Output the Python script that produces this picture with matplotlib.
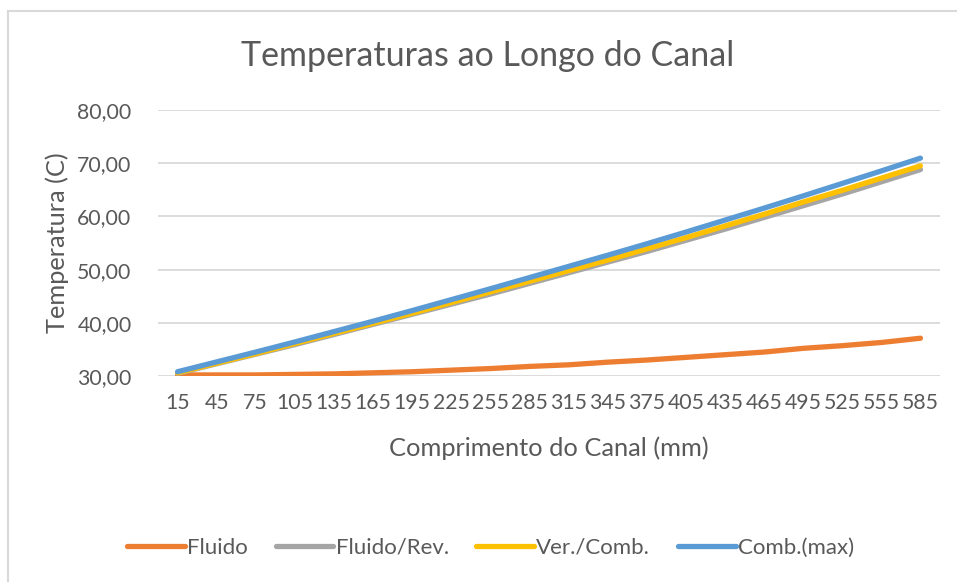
import numpy as np
import matplotlib
matplotlib.use("Agg")
import matplotlib.pyplot as plt
from matplotlib.ticker import FuncFormatter
from matplotlib.lines import Line2D

plt.rcParams['font.family'] = ['Lato', 'DejaVu Sans']

# comprimento do canal (mm)
comprimento = [15, 45, 75, 105, 135, 165, 195, 225, 255, 285,
               315, 345, 375, 405, 435, 465, 495, 525, 555, 585]

fluido = [30.2, 30.2, 30.2, 30.3, 30.4, 30.6, 30.8, 31.1, 31.4, 31.8,
          32.1, 32.6, 33.0, 33.5, 34.0, 34.5, 35.2, 35.7, 36.3, 37.1]
fluido_rev = [30.5, 32.3, 34.1, 35.9, 37.8, 39.7, 41.6, 43.5, 45.4, 47.4,
              49.4, 51.4, 53.4, 55.5, 57.6, 59.8, 62.0, 64.2, 66.5, 68.8]
ver_comb = [30.6, 32.4, 34.2, 36.1, 38.0, 39.9, 41.8, 43.8, 45.8, 47.8,
            49.8, 51.8, 53.9, 56.0, 58.2, 60.4, 62.7, 64.9, 67.2, 69.5]
comb_max = [30.8, 32.65, 34.5, 36.4, 38.35, 40.3, 42.3, 44.35, 46.4, 48.5,
            50.6, 52.7, 54.85, 57.05, 59.3, 61.55, 63.85, 66.2, 68.55, 70.95]

series = [("Fluido", fluido, "#ED7D31"),
          ("Fluido/Rev.", fluido_rev, "#A5A5A5"),
          ("Ver./Comb.", ver_comb, "#FFC000"),
          ("Comb.(max)", comb_max, "#5B9BD5")]

txt = "#595959"
W, H = 957, 582
fig = plt.figure(figsize=(W / 100, H / 100), dpi=100)
ax = fig.add_axes([158 / W, 1 - 376 / H, (940 - 158) / W, (376 - 110) / H])

x = np.arange(len(comprimento))
for nome, vals, cor in series:
    ax.plot(x, vals, color=cor, lw=3.8, solid_capstyle='round', label=nome)

ax.set_xlim(-0.5, len(comprimento) - 0.5)
ax.set_ylim(30, 80)
ax.set_yticks(np.arange(30, 81, 10))
ax.yaxis.set_major_formatter(FuncFormatter(lambda v, p: f"{v:.2f}".replace(".", ",")))
ax.set_xticks(x)
ax.set_xticklabels([str(c) for c in comprimento])
ax.grid(axis='y', color='#D9D9D9', lw=1.3)
ax.set_axisbelow(True)
for s in ax.spines.values():
    s.set_visible(False)
ax.tick_params(length=0, colors=txt, labelsize=15.3)
ax.tick_params(axis='y', pad=19)
ax.tick_params(axis='x', pad=12)

ax.set_xlabel("Comprimento do Canal (mm)", color=txt, fontsize=18.3, labelpad=17)
ax.set_ylabel("Temperatura (C)", color=txt, fontsize=18.3, labelpad=6)
fig.text(488 / W, 1 - 56 / H, "Temperaturas ao Longo do Canal", color=txt,
         fontsize=24.5, ha='center', va='center')

handles = [Line2D([], [], color=c, lw=3.8, solid_capstyle='round') for _, _, c in series]
fig.legend(handles, [n for n, _, _ in series], loc='center left',
           bbox_to_anchor=(107 / W, 1 - 548 / H), ncol=4, frameon=False,
           fontsize=16, labelcolor=txt, handlelength=2.6, handletextpad=0.1,
           columnspacing=1.25)

# moldura do grafico
fig.add_artist(Line2D([8 / W, 1], [1 - 11 / H, 1 - 11 / H], color='#D9D9D9', lw=1.5))
fig.add_artist(Line2D([8 / W, 8 / W], [0, 1 - 11 / H], color='#D9D9D9', lw=1.5))

fig.savefig("out.png", dpi=100)
